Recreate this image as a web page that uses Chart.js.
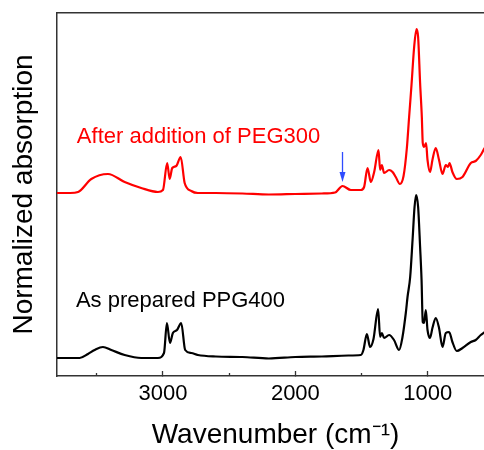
<!DOCTYPE html>
<html>
<head>
<meta charset="utf-8">
<script src="https://cdn.jsdelivr.net/npm/chart.js@4.4.0/dist/chart.umd.min.js"></script>
<style>
  html, body { margin: 0; padding: 0; background: #fff; overflow: hidden; }
  #wrap { width: 520px; height: 450px; }
</style>
</head>
<body>
<div id="wrap"><canvas id="chart" width="520" height="450"></canvas></div>
<script>
// FTIR spectra, values (offset traces, arbitrary units)
const redWavenumber = [3800, 3700, 3641, 3541, 3415, 3289, 3164, 3038, 3000, 2968,
    2949, 2930, 2900, 2866, 2836, 2786, 2736, 2600, 2400, 2200,
    2000, 1800, 1700, 1644, 1581, 1506, 1481, 1455, 1430, 1405,
    1372, 1360, 1347, 1330, 1292, 1266, 1242, 1211, 1183, 1158,
    1141, 1123, 1103, 1085, 1073, 1058, 1045, 1038, 1028, 1013,
    1002, 983, 965, 940, 915, 889, 864, 847, 836, 814,
    781, 738, 675, 638, 600, 570, 500];
const redAbsorption = [1.83, 1.83, 1.84, 1.97, 2.02, 1.94, 1.88, 1.84, 1.86, 2.13,
    1.97, 2.08, 2.10, 2.19, 1.93, 1.85, 1.83, 1.83, 1.825, 1.815,
    1.82, 1.825, 1.835, 1.90, 1.86, 1.86, 1.89, 2.08, 1.94, 2.04,
    2.26, 2.06, 2.11, 2.03, 2.06, 2.04, 1.99, 1.92, 2.00, 2.28,
    2.59, 2.91, 3.29, 3.47, 3.39, 2.93, 2.59, 2.33, 2.29, 2.33,
    2.16, 2.04, 2.16, 2.28, 2.16, 2.02, 2.11, 2.09, 2.13, 2.04,
    1.97, 1.99, 2.13, 2.15, 2.21, 2.28, 2.36];

const blackWavenumber = [3800, 3629, 3566, 3516, 3453, 3390, 3289, 3164, 3038, 2992,
    2970, 2947, 2925, 2894, 2862, 2832, 2786, 2736, 2600, 2400,
    2200, 2000, 1800, 1600, 1506, 1486, 1460, 1436, 1410, 1375,
    1360, 1347, 1330, 1292, 1255, 1217, 1191, 1166, 1153, 1133,
    1115, 1100, 1088, 1073, 1058, 1047, 1038, 1028, 1015, 1002,
    983, 965, 940, 915, 889, 864, 839, 814, 781, 738,
    675, 638, 600, 570, 500];
const blackAbsorption = [0.18, 0.18, 0.22, 0.26, 0.29, 0.26, 0.21, 0.18, 0.18, 0.23,
    0.53, 0.33, 0.43, 0.46, 0.53, 0.26, 0.23, 0.21, 0.195, 0.19,
    0.175, 0.19, 0.195, 0.205, 0.21, 0.26, 0.42, 0.29, 0.37, 0.67,
    0.39, 0.43, 0.38, 0.41, 0.36, 0.26, 0.39, 0.63, 0.79, 0.99,
    1.36, 1.69, 1.81, 1.69, 1.29, 0.96, 0.54, 0.53, 0.66, 0.46,
    0.38, 0.48, 0.58, 0.48, 0.29, 0.43, 0.44, 0.34, 0.25, 0.28,
    0.34, 0.36, 0.41, 0.44, 0.52];

const seriesNames = ['After addition of PEG300', 'As prepared PPG400'];
const xMajorTicks = [3000, 2000, 1000];
const xMinorTicks = [3500, 2500, 1500];
const arrowWavenumber = 1644;

const FONT = 'Arial, "Liberation Sans", sans-serif';
Chart.defaults.font.family = FONT;
Chart.defaults.color = '#000';

function toPoints(xs, ys) {
    return xs.map((x, i) => ({ x: x, y: ys[i] }));
}

// inline labels + blue arrow, placed in data coordinates
const annotations = {
    id: 'annotations',
    afterDatasetsDraw(chart) {
        const { ctx, scales: { x, y } } = chart;
        ctx.save();
        ctx.font = '22px ' + FONT;
        ctx.textAlign = 'left';
        ctx.textBaseline = 'alphabetic';
        ctx.fillStyle = '#ff0000';
        ctx.fillText(seriesNames[0], x.getPixelForValue(3650), y.getPixelForValue(2.327));
        ctx.fillStyle = '#000';
        ctx.fillText(seriesNames[1], x.getPixelForValue(3657), y.getPixelForValue(0.693));

        const ax = x.getPixelForValue(arrowWavenumber);
        const yTop = y.getPixelForValue(2.24);
        const yTip = y.getPixelForValue(1.94);
        ctx.strokeStyle = '#2f4cff';
        ctx.fillStyle = '#2f4cff';
        ctx.lineWidth = 1.3;
        ctx.beginPath();
        ctx.moveTo(ax, yTop);
        ctx.lineTo(ax, yTip - 8);
        ctx.stroke();
        ctx.beginPath();
        ctx.moveTo(ax - 3, yTip - 10);
        ctx.lineTo(ax + 3, yTip - 10);
        ctx.lineTo(ax, yTip);
        ctx.closePath();
        ctx.fill();
        ctx.restore();
    }
};

const ctx = document.getElementById('chart').getContext('2d');
new Chart(ctx, {
    type: 'line',
    data: {
        datasets: [{
            label: seriesNames[0],
            data: toPoints(redWavenumber, redAbsorption),
            borderColor: '#ff0000',
            borderWidth: 2.2,
            pointRadius: 0,
            cubicInterpolationMode: 'monotone'
        }, {
            label: seriesNames[1],
            data: toPoints(blackWavenumber, blackAbsorption),
            borderColor: '#000000',
            borderWidth: 2.2,
            pointRadius: 0,
            cubicInterpolationMode: 'monotone'
        }]
    },
    options: {
        responsive: false,
        animation: false,
        layout: { padding: { top: 13, right: 26, left: 0, bottom: 0 } },
        plugins: {
            legend: { display: false },
            tooltip: { enabled: false }
        },
        scales: {
            x: {
                type: 'linear',
                position: 'bottom',
                weight: 1,
                reverse: true,
                min: 500,
                max: 3800,
                afterBuildTicks: s => { s.ticks = xMajorTicks.map(v => ({ value: v })); },
                afterFit: s => { s.height = 74; },
                border: { display: true, color: '#333', width: 1.5 },
                grid: { drawOnChartArea: false, drawTicks: true, tickLength: -5, tickColor: '#333', tickWidth: 1.3 },
                ticks: {
                    autoSkip: false,
                    maxRotation: 0,
                    padding: 10,
                    font: { size: 22 },
                    callback: v => String(v)
                },
                title: {
                    display: true,
                    text: 'Wavenumber (cm\u207B\u00B9)',
                    font: { size: 28, lineHeight: 1 },
                    padding: { top: 0, bottom: 1 }
                }
            },
            xMinor: {
                type: 'linear',
                position: 'bottom',
                weight: 0,
                reverse: true,
                min: 500,
                max: 3800,
                afterBuildTicks: s => { s.ticks = xMinorTicks.map(v => ({ value: v })); },
                afterFit: s => { s.height = 0; },
                border: { display: false },
                grid: { drawOnChartArea: false, drawTicks: true, tickLength: -3, tickColor: '#333', tickWidth: 1.3 },
                ticks: { display: false }
            },
            xTop: {
                type: 'linear',
                position: 'top',
                reverse: true,
                min: 500,
                max: 3800,
                afterFit: s => { s.height = 0; },
                border: { display: true, color: '#333', width: 1.5 },
                grid: { drawOnChartArea: false, drawTicks: false },
                ticks: { display: false }
            },
            y: {
                min: 0,
                max: 3.63,
                afterFit: s => { s.width = 57; },
                border: { display: true, color: '#333', width: 1.5 },
                grid: { drawOnChartArea: false, drawTicks: false },
                ticks: { display: false },
                title: {
                    display: true,
                    text: 'Normalized absorption',
                    font: { size: 28 },
                    padding: { top: 7, bottom: 0 }
                }
            }
        }
    },
    plugins: [annotations]
});
</script>
</body>
</html>
